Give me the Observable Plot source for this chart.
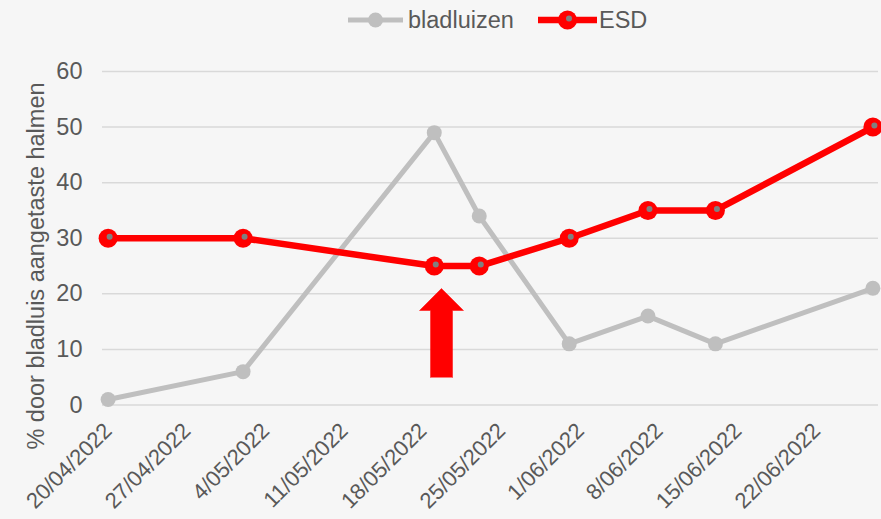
<!DOCTYPE html>
<html>
<head>
<meta charset="utf-8">
<script src="https://cdn.jsdelivr.net/npm/d3@7"></script>
<script src="https://cdn.jsdelivr.net/npm/@observablehq/plot@0.6"></script>
<style>
  html, body { margin: 0; padding: 0; background: #f6f6f6; }
  #wrap { position: relative; width: 881px; height: 519px; font-family: "Liberation Sans", Arial, sans-serif; color: #595959; overflow: hidden; }
  #legend { position: absolute; left: 0; top: 0; width: 881px; height: 38px; }
  #ytitle { position: absolute; left: 36px; top: 266px; transform: translate(-50%, -50%) rotate(-90deg); white-space: nowrap; font-size: 23.5px; color: #595959; }
  svg { position: absolute; left: 0; top: 0; }
</style>
</head>
<body>
<div id="wrap">
  <div id="chart"></div>
  <div id="ytitle">% door bladluis aangetaste halmen</div>
  <svg id="legend" width="881" height="38"></svg>
</div>
<script>
// ---- data ----
const dates = ["2022-04-20", "2022-05-02", "2022-05-19", "2022-05-23", "2022-05-31", "2022-06-07", "2022-06-13", "2022-06-27"];
const bladluizen = [1, 6, 49, 34, 11, 16, 11, 21];
const esd = [30, 30, 25, 25, 30, 35, 35, 50];
const tickDates = ["2022-04-20", "2022-04-27", "2022-05-04", "2022-05-11", "2022-05-18", "2022-05-25", "2022-06-01", "2022-06-08", "2022-06-15", "2022-06-22"];
const yTicks = [0, 10, 20, 30, 40, 50, 60];
const seriesNames = ["bladluizen", "ESD"];
// annotation arrow (day offset from 20/04/2022, value)
const arrowDays = [28.67, 28.67, 27.69, 29.64, 31.60, 30.62, 30.62];
const arrowVals = [4.95, 17.0, 17.0, 20.96, 17.0, 17.0, 4.95];

const parse = s => new Date(s + "T00:00:00Z");
const DAY = 86400000;
const start = parse(dates[0]);
const gray = dates.map((d, i) => ({date: parse(d), value: bladluizen[i]}));
const red = dates.map((d, i) => ({date: parse(d), value: esd[i]}));
const arrow = arrowDays.map((d, i) => ({date: new Date(+start + d * DAY), value: arrowVals[i]}));
const fmt = d => `${d.getUTCDate()}/${String(d.getUTCMonth() + 1).padStart(2, "0")}/${d.getUTCFullYear()}`;

const GRAY = "#bfbfbf", RED = "#ff0000", TXT = "#595959";
const FS = 23.5;

const chart = Plot.plot({
  width: 881,
  height: 519,
  marginLeft: 102,
  marginRight: 3,
  marginTop: 71,
  marginBottom: 114.5,
  style: {background: "transparent", fontFamily: "'Liberation Sans', Arial, sans-serif", fontSize: FS + "px", color: TXT},
  x: {type: "utc", domain: [new Date(+parse(dates[0]) - DAY / 2), new Date(+parse(dates[dates.length - 1]) + DAY / 2)]},
  y: {domain: [0, 60]},
  marks: [
    Plot.gridY(yTicks, {stroke: "#d9d9d9", strokeOpacity: 1, strokeWidth: 1.5}),
    Plot.axisY(yTicks, {tickSize: 0, tickPadding: 20, label: null, fontSize: FS, fill: TXT}),
    Plot.axisX(tickDates.map(parse), {tickSize: 0, tickPadding: 22, tickRotate: -45, tickFormat: fmt, label: null, fontSize: 22, fill: TXT}),
    Plot.line(gray, {x: "date", y: "value", stroke: GRAY, strokeWidth: 5}),
    Plot.dot(gray, {x: "date", y: "value", r: 7.5, fill: GRAY, stroke: "none"}),
    Plot.line(red, {x: "date", y: "value", stroke: RED, strokeWidth: 6.5}),
    Plot.dot(red, {x: "date", y: "value", r: 9.5, fill: RED, stroke: "none"}),
    Plot.dot(red, {x: "date", y: "value", r: 3, fill: "#808080", stroke: "none", dx: 1.5, dy: -1.5}),
    Plot.line(arrow, {x: "date", y: "value", fill: RED, stroke: RED, strokeWidth: 0.5})
  ]
});
document.getElementById("chart").appendChild(chart);

// legend
const lg = d3.select("#legend");
const items = [
  {name: seriesNames[0], color: GRAY, x0: 348, x1: 403, r: 7.5, w: 5, tx: 408},
  {name: seriesNames[1], color: RED, x0: 538, x1: 597, r: 9.5, w: 6.5, tx: 599}
];
items.forEach((it, i) => {
  const cy = 20;
  lg.append("line").attr("x1", it.x0).attr("x2", it.x1).attr("y1", cy).attr("y2", cy)
    .attr("stroke", it.color).attr("stroke-width", it.w);
  lg.append("circle").attr("cx", (it.x0 + it.x1) / 2).attr("cy", cy).attr("r", it.r).attr("fill", it.color);
  if (i === 1) lg.append("circle").attr("cx", (it.x0 + it.x1) / 2 + 1.5).attr("cy", cy - 1.5).attr("r", 3).attr("fill", "#808080");
  lg.append("text").attr("x", it.tx).attr("y", cy).attr("dy", "0.35em")
    .attr("fill", TXT).attr("font-size", FS).attr("font-family", "'Liberation Sans', Arial, sans-serif").text(it.name);
});
</script>
</body>
</html>
